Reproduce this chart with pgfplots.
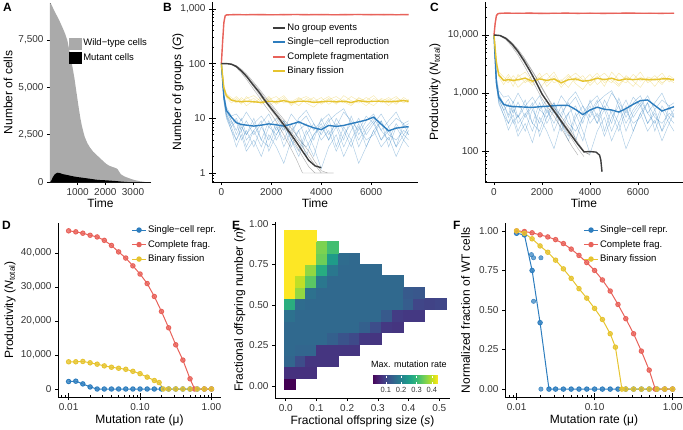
\documentclass[border=0pt]{standalone}
\usepackage{fontspec}
\setmainfont{Liberation Sans}
\setsansfont{Liberation Sans}
\usepackage{pgfplots}
\usepackage{pgfplotstable}
\pgfplotsset{compat=1.18}
\usetikzlibrary{calc}

\definecolor{cblue}{RGB}{45,125,190}
\definecolor{cred}{RGB}{232,98,90}
\definecolor{cyel}{RGB}{230,196,48}
\definecolor{cdark}{RGB}{60,60,60}
\definecolor{cgray}{RGB}{170,170,170}

\newcommand{\tfont}{\fontsize{10}{11}\selectfont}
\newcommand{\lfont}{\fontsize{12}{13}\selectfont}
\newcommand{\gfont}{\fontsize{9.5}{10}\selectfont}

\pgfplotsset{
  gg/.style={
    scale only axis,
    axis x line=bottom, axis y line=left,
    axis line style={-, line width=0.5pt, black},
    tick style={black, line width=0.5pt},
    tick align=outside,
    major tick length=3pt,
    minor tick length=2pt,
    scaled ticks=false,
    tick label style={font=\tfont, text=black!80},
    label style={font=\lfont},
    /pgf/number format/assume math mode=true,
    legend cell align=left,
    legend style={draw=none, fill=none, inner sep=0pt, font=\gfont,
      row sep=2.5pt, nodes={inner sep=1.5pt, text height=7pt, text depth=2pt}},
  },
  % label placement: baseline of the label at a fraction of the axis size
  xlab/.style={xlabel style={at={(axis description cs:0.5,#1)}, anchor=base}},
  ylab/.style={ylabel style={at={(axis description cs:#1,0.5)}, anchor=base}},
  rep/.style={line width=0.45pt, opacity=0.4, forget plot},
  mean/.style={line width=1.4pt, forget plot},
  dots/.style={mark=*, mark size=2.2pt, line width=1pt,
    mark options={draw=none, fill opacity=0.75}, forget plot},
}

% ---------- panel A ----------
\pgfplotstableread{
t v
0 9450
35 9410
120 9150
212 8880
330 8550
447 8170
540 7850
623 7500
700 6950
790 6250
882 5490
960 4700
1040 3900
1100 3350
1152 2960
1250 2400
1350 2050
1446 1820
1560 1600
1682 1430
1800 1270
1917 1110
2030 960
2152 850
2250 800
2328 760
2400 720
2446 670
2500 540
2564 406
2680 300
2800 230
2950 150
3093 88
3250 40
3446 0
3650 0
}\Atotal
\pgfplotstableread{
t v
0 0
40 50
100 250
180 420
270 490
360 470
450 420
620 370
800 310
975 265
1150 230
1330 195
1500 160
1680 120
1850 100
2030 90
2200 70
2390 50
2600 20
2800 0
3650 0
}\Amut

% ---------- panel B ----------
\pgfplotstableread{
t r1 r2 r3 r4 r5 r6 r7 r8 m
0 100 100 100 100 100 100 100 100 100
100 25 28 20 24 22 24 26 22 25
200 13 16 10 12 11 12 14 11 14
400 9 11 6 8 7 7 9 6 10.5
600 5 12 3 10 4 9 6 4 8.3
800 8 9 5 6 7 4 10 6 7.7
1000 4 13 2.5 9 5 6 5 3 7.5
1300 6 8 4 5 10 3 8 6 7.2
1600 3 11 2 8 4 7 4 9 7.5
1900 7 7 5 12 3 4 9 2.5 7.9
2200 5 10 3 6 7 8 4 5 7.6
2500 9 6 1.5 9 4 3 7 8 7.2
2800 4 12 4 5 8 6 3 4 7.8
3100 6 8 2.5 10 4 9 6 2 8.6
3400 2 11 6 14 3 4 8 5 7.5
3700 5 6 3 8 5 2 4 8 6.7
4000 8 9 1.2 5 7 6 10 4 6.2
4300 4 12 3 9 4 10 5 6 7.4
4600 7 7 5 12 10 3 8 2.5 7.1
4900 3 13 2 15 6 7 4 5 7.4
5200 6 9 4 8 3 4 11 8 8.0
5500 10 6 1.5 4 7 8 5 3 8.6
5800 5 11 3 7 4 3 9 6 9.3
6100 8 8 6 10 5 6 12 9 10.5
6400 4 12 3 6 9 9 6 4 7.8
6700 6 7 4.5 9 5 3 4 7 5.9
7000 3 10 2 13 4 7 8 3 6.6
7300 5 8 4 7 6 4 5 8 6.9
7500 4 9 3 8 5 6 7 5 7.0
}\Bblue
\pgfplotstableread{
t y1 y2 y3 y4 m
0 100 100 100 100 100
100 38 33 40 35 36
200 26 24 28 25 26
400 22 19 24 21 21.5
600 19 23 20 25 20.5
800 24 18 22 20 20
1000 20 25 17 23 20.5
1300 23 19 21 26 20
1600 18 24 19 20 19.5
1900 22 17 25 23 20.5
2200 25 21 18 19 20
2500 19 26 22 24 21
2800 21 18 20 17 19.5
3100 17 23 24 22 20.5
3400 23 20 19 25 20.5
3700 20 24 16 21 19.5
4000 24 18 21 19 20
4300 18 22 25 23 20.5
4600 22 25 19 18 20
4900 19 20 22 26 20.5
5200 25 17 18 21 19.5
5500 21 23 24 19 21
5800 17 21 20 24 20
6100 23 26 17 20 20.5
6400 20 19 23 22 20.5
6700 24 22 21 17 20
7000 19 18 25 23 20.5
7300 22 24 19 21 21
7500 20 21 22 19 20.5
}\Byel
\pgfplotstableread{
t g1 g2 g3 g4 m
0 100 100 100 100 100
200 100 100 100 100 100
400 96 98 97 99 97.5
600 85 90 87 92 88.5
800 68 76 71 79 73.5
1000 52 62 57 65 59
1250 36 45 40 48 42
1500 25 33 28 35 30.5
1750 17 23 20 25 21
2000 12 16.5 14 18 15
2250 8 12 10 13 10.8
2500 5 8.5 7 9.5 7.6
2750 3 6 5 7 5.4
3000 1.8 4.2 3.2 5 3.7
3250 1 3 2 3.5 2.5
3500 1 2 1.3 2.5 1.7
3750 1 1.4 1 1.6 1.35
4000 1 1 1 1.1 1.25
4250 1 1 nan 1 nan
4500 1 nan nan 1 nan
}\Bblack
\pgfplotstableread{
t r1 r2 m
0 100 100 100
50 230 270 250
100 520 600 560
150 720 760 740
200 770 790 775
300 795 765 780
500 800 770 785
1000 770 800 782
1500 805 770 788
2000 790 765 780
2500 770 800 785
3000 800 775 790
3500 795 770 783
4000 775 800 787
4500 795 765 781
5000 800 770 786
5500 775 805 790
6000 800 770 784
6500 770 800 788
7000 795 770 782
7500 775 800 786
}\Bred

% ---------- panel C ----------
\pgfplotstableread{
t c1 c2 c3 c4 c5 c6 c7 c8 m
0 10000 10000 10000 10000 10000 10000 10000 10000 10000
100 1600 1900 1300 1700 1500 1500 1800 1400 1500
200 900 1100 650 800 750 800 950 700 850
400 650 850 420 600 520 500 650 420 640
600 380 900 230 780 300 650 420 300 600
800 600 680 350 450 520 300 720 420 585
1000 300 1000 180 700 380 420 380 220 580
1300 450 600 300 380 760 220 600 420 572
1600 220 850 140 600 300 520 300 680 566
1900 520 520 380 900 220 300 680 180 580
2200 380 760 220 450 520 600 300 380 592
2500 680 450 110 680 300 220 520 600 605
2800 300 900 300 380 600 450 220 300 615
3100 450 600 180 760 300 680 450 150 610
3400 150 850 450 1050 220 300 600 380 520
3700 380 450 220 600 380 150 300 600 425
4000 600 680 90 380 520 450 760 300 510
4300 300 900 220 680 300 760 380 450 570
4600 520 520 380 900 760 220 600 180 525
4900 220 1000 150 1100 450 520 300 380 510
5200 450 680 300 600 220 300 820 600 470
5500 760 450 110 300 520 600 380 220 540
5800 380 850 220 520 300 220 680 450 640
6100 600 600 450 760 380 450 900 680 740
6400 300 900 220 450 680 680 450 300 760
6700 450 520 340 680 380 220 300 520 610
7000 220 760 150 1000 300 520 600 220 490
7300 380 600 300 520 450 300 380 600 545
7500 300 680 220 600 380 450 520 380 580
}\Cblue
\pgfplotstableread{
t y1 y2 y3 y4 m
0 10000 10000 10000 10000 10000
100 3500 3000 3800 3200 3300
200 2100 1900 2300 2000 2050
400 1700 1400 1900 1600 1650
600 1500 1900 1600 2100 1700
800 2000 1300 1750 1550 1650
1000 1600 2100 1250 1900 1700
1300 1900 1500 1650 2300 1800
1600 1350 2000 1500 1600 1600
1900 1800 1200 2200 1900 1750
2200 2200 1700 1300 1500 1650
2500 1500 2300 1800 2000 1750
2800 1700 1400 1600 1250 1500
3100 1250 1950 2100 1800 1700
3400 1900 1600 1450 2200 1750
3700 1600 2000 1150 1700 1600
4000 2100 1350 1700 1500 1650
4300 1400 1800 2200 1950 1800
4600 1800 2200 1500 1300 1700
4900 1500 1650 1850 2300 1800
5200 2200 1300 1400 1700 1650
5500 1700 1900 2000 1500 1750
5800 1300 1700 1600 2100 1700
6100 1900 2300 1250 1600 1750
6400 1600 1500 1900 1800 1700
6700 2000 1800 1700 1300 1700
7000 1500 1400 2200 1900 1750
7300 1800 2000 1550 1700 1750
7500 1650 1750 1800 1500 1680
}\Cyel
\pgfplotstableread{
t g1 g2 g3 g4 m
0 10000 10000 10000 10000 10000
250 9700 9900 9800 9850 9800
500 8300 9000 8600 8900 8700
750 6300 7400 6700 7200 7000
1000 4500 5700 4900 5400 5200
1250 3000 4100 3400 3900 3600
1500 1950 2800 2300 2700 2400
1750 1250 1900 1500 1850 1550
2000 800 1250 1000 1200 960
2250 560 830 680 800 680
2500 400 560 470 520 490
2750 270 420 330 370 350
3000 180 300 230 270 250
3250 120 210 160 190 180
3500 85 140 110 130 130
3750 nan 100 80 95 97
4000 nan 85 nan 88 98
4250 nan nan nan nan 96
4400 nan nan nan nan 85
4450 nan nan nan nan 70
4500 nan nan nan nan 44
}\Cblack
\pgfplotstableread{
t r1 r2 m
0 10000 10000 10000
50 15000 17000 16000
100 20500 22500 21500
150 22500 23500 23000
200 23300 23900 23500
300 24100 23300 23700
500 24200 23300 23800
1000 23200 24200 23700
1500 24300 23200 23800
2000 24000 23100 23600
2500 23200 24200 23700
3000 24200 23300 23800
3500 24000 23200 23650
4000 23300 24300 23750
4500 24100 23100 23650
5000 24200 23200 23700
5500 23300 24300 23800
6000 24200 23300 23750
6500 23200 24100 23700
7000 24000 23200 23650
7500 23400 24200 23750
}\Cred

% ---------- panel D ----------
\pgfplotstableread{
x y
0.0100 2200
0.0126 2300
0.0158 1500
0.0200 600
0.0251 0
0.0316 0
0.0398 0
0.0501 0
0.0631 0
0.0794 0
0.1000 0
0.1259 0
0.1585 0
0.1995 0
0.2512 0
0.3162 0
0.3981 0
0.5012 0
0.6310 0
0.7943 0
1.0000 0
}\Dblue
\pgfplotstableread{
x y
0.0100 46500
0.0126 46200
0.0158 45800
0.0200 45200
0.0251 44700
0.0316 43700
0.0398 42200
0.0501 40300
0.0631 38500
0.0794 36200
0.1000 33800
0.1259 31000
0.1585 27200
0.1995 22800
0.2512 18000
0.3162 13000
0.3981 8500
0.5012 3000
0.5800 0
0.7943 0
1.0000 0
}\Dred
\pgfplotstableread{
x y
0.0100 8000
0.0126 8000
0.0158 8100
0.0200 7700
0.0251 7300
0.0316 6800
0.0398 6400
0.0501 6100
0.0631 5800
0.0794 5200
0.1000 4500
0.1259 3500
0.1585 2500
0.1850 1900
0.2120 0
0.2512 0
0.3162 0
0.3981 0
0.5012 0
0.6310 0
0.7943 0
1.0000 0
}\Dyel

% ---------- panel E ----------
\pgfplotstableread{
s n v
0.012 0.016 0.01
0.012 0.086 0.07
0.047 0.086 0.07
0.082 0.086 0.07
0.012 0.156 0.15
0.047 0.156 0.11
0.082 0.156 0.075
0.118 0.156 0.075
0.153 0.156 0.075
0.012 0.226 0.155
0.047 0.226 0.15
0.082 0.226 0.15
0.118 0.226 0.075
0.153 0.226 0.075
0.188 0.226 0.075
0.223 0.226 0.075
0.012 0.296 0.155
0.047 0.296 0.155
0.082 0.296 0.155
0.118 0.296 0.155
0.153 0.296 0.14
0.188 0.296 0.12
0.223 0.296 0.105
0.258 0.296 0.08
0.294 0.296 0.075
0.012 0.367 0.155
0.047 0.367 0.155
0.082 0.367 0.155
0.118 0.367 0.155
0.153 0.367 0.155
0.188 0.367 0.155
0.223 0.367 0.155
0.258 0.367 0.14
0.294 0.367 0.11
0.329 0.367 0.08
0.364 0.367 0.075
0.012 0.437 0.17
0.047 0.437 0.155
0.082 0.437 0.155
0.118 0.437 0.155
0.153 0.437 0.155
0.188 0.437 0.155
0.223 0.437 0.155
0.258 0.437 0.155
0.294 0.437 0.155
0.329 0.437 0.13
0.364 0.437 0.085
0.399 0.437 0.08
0.434 0.437 0.08
0.012 0.507 0.28
0.047 0.507 0.16
0.082 0.507 0.155
0.118 0.507 0.155
0.153 0.507 0.155
0.188 0.507 0.155
0.223 0.507 0.155
0.258 0.507 0.155
0.294 0.507 0.155
0.329 0.507 0.155
0.364 0.507 0.155
0.399 0.507 0.135
0.434 0.507 0.10
0.470 0.507 0.095
0.505 0.507 0.10
0.012 0.577 0.44
0.047 0.577 0.37
0.082 0.577 0.17
0.118 0.577 0.155
0.153 0.577 0.155
0.188 0.577 0.155
0.223 0.577 0.155
0.258 0.577 0.155
0.294 0.577 0.155
0.329 0.577 0.155
0.364 0.577 0.155
0.399 0.577 0.13
0.434 0.577 0.125
0.012 0.647 0.44
0.047 0.647 0.40
0.082 0.647 0.33
0.118 0.647 0.18
0.153 0.647 0.155
0.188 0.647 0.155
0.223 0.647 0.155
0.258 0.647 0.155
0.294 0.647 0.155
0.329 0.647 0.155
0.364 0.647 0.155
0.012 0.717 0.44
0.047 0.717 0.44
0.082 0.717 0.37
0.118 0.717 0.275
0.153 0.717 0.18
0.188 0.717 0.155
0.223 0.717 0.155
0.258 0.717 0.155
0.294 0.717 0.155
0.012 0.787 0.44
0.047 0.787 0.44
0.082 0.787 0.44
0.118 0.787 0.345
0.153 0.787 0.245
0.188 0.787 0.16
0.223 0.787 0.155
0.012 0.857 0.44
0.047 0.857 0.44
0.082 0.857 0.44
0.118 0.857 0.355
0.153 0.857 0.31
0.012 0.927 0.44
0.047 0.927 0.44
0.082 0.927 0.44
}\Etiles

% ---------- panel F ----------
\pgfplotstableread{
x y
0.0100 0.985
0.0126 0.975
0.0158 0.750
0.0200 0.420
0.0260 0
0.0316 0
0.0398 0
0.0501 0
0.0631 0
0.0794 0
0.1000 0
0.1259 0
0.1585 0
0.1995 0
0.2512 0
0.3162 0
0.3981 0
0.5012 0
0.6310 0
0.7943 0
1.0000 0
}\Fblue
\pgfplotstableread{
x y
0.0126 0.99
0.0155 0.85
0.0165 0.83
0.0165 0.555
0.0205 0.83
0.0205 0
}\Fbluerep
\pgfplotstableread{
x y
0.0100 1.000
0.0126 0.996
0.0158 0.988
0.0200 0.975
0.0251 0.962
0.0316 0.945
0.0398 0.920
0.0501 0.885
0.0631 0.845
0.0794 0.800
0.1000 0.750
0.1259 0.690
0.1585 0.620
0.1995 0.535
0.2512 0.445
0.3162 0.350
0.3981 0.240
0.5012 0.120
0.6000 0
0.7943 0
1.0000 0
}\Fred
\pgfplotstableread{
x y
0.0100 1.000
0.0126 0.985
0.0158 0.950
0.0200 0.905
0.0251 0.865
0.0316 0.815
0.0398 0.760
0.0501 0.700
0.0631 0.635
0.0794 0.575
0.1000 0.510
0.1259 0.440
0.1585 0.350
0.1850 0.265
0.2240 0
0.2512 0
0.3162 0
0.3981 0
0.5012 0
0.6310 0
0.7943 0
1.0000 0
}\Fyel

\begin{document}
\begin{tikzpicture}
\useasboundingbox (0,0) rectangle (683pt,429pt);

% A
\begin{axis}[gg, at={(50pt,247pt)}, anchor=south west, width=101pt, height=179pt,
  xlab=-0.145, ylab=-0.373,
  xmin=0, xmax=3650, ymin=0, ymax=9450,
  xtick={1000,2000,3000}, xticklabels={1000,2000,3000},
  ytick={0,2500,5000,7500}, yticklabels={0,{2,500},{5,000},{7,500}},
  xlabel={Time}, ylabel={Number of cells},
  legend image code/.code={\fill[#1] (0pt,-5.5pt) rectangle (12pt,5.5pt);},
  legend style={at={(0.19,0.81)}, anchor=north west}]
\addlegendimage{cgray}\addlegendentry{Wild−type cells}
\addlegendimage{black}\addlegendentry{Mutant cells}
\addplot[fill=cgray, draw=none, forget plot] table[x=t, y=v] {\Atotal} \closedcycle;
\addplot[fill=black, draw=none, forget plot] table[x=t, y=v] {\Amut} \closedcycle;
\end{axis}

% B
\begin{axis}[gg, at={(212pt,247pt)}, anchor=south west, width=206pt, height=180pt,
  xlab=-0.1444, ylab=-0.150,
  ymode=log, xmin=-375, xmax=7875, ymin=0.684, ymax=1337,
  unbounded coords=jump,
  xtick={0,2000,4000,6000}, xticklabels={0,2000,4000,6000},
  ytick={1,10,100,1000}, yticklabels={1,10,100,{1,000}},
  minor ytick={0.7,0.8,0.9,2,3,4,5,6,7,8,9,20,30,40,50,60,70,80,90,200,300,400,500,600,700,800,900},
  minor tick style={xshift=2pt},
  extra y ticks={1,10,100,1000}, extra y tick labels={},
  extra y tick style={major tick length=4pt, tick style={xshift=4pt}},
  xlabel={Time}, ylabel={Number of groups (\textit{G})},
  legend image code/.code={\draw[#1] (0pt,0pt) -- (12pt,0pt);},
  legend style={at={(0.29,0.89)}, anchor=north west}]
\addlegendimage{cdark, line width=2pt}\addlegendentry{No group events}
\addlegendimage{cblue, line width=2pt}\addlegendentry{Single−cell reproduction}
\addlegendimage{cred, line width=2pt}\addlegendentry{Complete fragmentation}
\addlegendimage{cyel, line width=2pt}\addlegendentry{Binary fission}
\foreach \c in {r1,r2,r3,r4,r5,r6,r7,r8}{\addplot[rep, cblue] table[x=t, y=\c] {\Bblue};}
\foreach \c in {y1,y2,y3,y4}{\addplot[rep, cyel] table[x=t, y=\c] {\Byel};}
\foreach \c in {g1,g2,g3,g4}{\addplot[rep, cdark] table[x=t, y=\c] {\Bblack};}
\foreach \c in {r1,r2}{\addplot[rep, cred] table[x=t, y=\c] {\Bred};}
\addplot[mean, cblue] table[x=t, y=m] {\Bblue};
\addplot[mean, cyel] table[x=t, y=m] {\Byel};
\addplot[mean, cred] table[x=t, y=m] {\Bred};
\addplot[mean, cdark] table[x=t, y=m] {\Bblack};
\end{axis}

% C
\begin{axis}[gg, at={(485pt,247pt)}, anchor=south west, width=198pt, height=180pt,
  xlab=-0.1444, ylab=-0.237,
  ymode=log, xmin=-375, xmax=7875, ymin=29.3, ymax=37070,
  unbounded coords=jump,
  xtick={0,2000,4000,6000}, xticklabels={0,2000,4000,6000},
  ytick={100,1000,10000}, yticklabels={100,{1,000},{10,000}},
  minor ytick={30,40,50,60,70,80,90,200,300,400,500,600,700,800,900,2000,3000,4000,5000,6000,7000,8000,9000,20000,30000},
  minor tick style={xshift=2pt},
  extra y ticks={100,1000,10000}, extra y tick labels={},
  extra y tick style={major tick length=4pt, tick style={xshift=4pt}},
  xlabel={Time}, ylabel={Productivity (\textit{N}\textsubscript{total})}]
\foreach \c in {c1,c2,c3,c4,c5,c6,c7,c8}{\addplot[rep, cblue] table[x=t, y=\c] {\Cblue};}
\foreach \c in {y1,y2,y3,y4}{\addplot[rep, cyel] table[x=t, y=\c] {\Cyel};}
\foreach \c in {g1,g2,g3,g4}{\addplot[rep, cdark] table[x=t, y=\c] {\Cblack};}
\foreach \c in {r1,r2}{\addplot[rep, cred] table[x=t, y=\c] {\Cred};}
\addplot[mean, cblue] table[x=t, y=m] {\Cblue};
\addplot[mean, cyel] table[x=t, y=m] {\Cyel};
\addplot[mean, cred] table[x=t, y=m] {\Cred};
\addplot[mean, cdark] table[x=t, y=m] {\Cblack};
\end{axis}

% D
\begin{axis}[gg, at={(58pt,32pt)}, anchor=south west, width=163pt, height=174pt,
  xlab=-0.152, ylab=-0.276,
  xmode=log, xmin=0.0071, xmax=1.36, ymin=-2350, ymax=48800,
  xtick={0.01,0.1,1}, xticklabels={0.01,0.10,1.00},
  minor xtick={0.008,0.009,0.02,0.03,0.04,0.05,0.06,0.07,0.08,0.09,0.2,0.3,0.4,0.5,0.6,0.7,0.8,0.9},
  minor tick style={yshift=2pt},
  extra x ticks={0.01,0.1,1}, extra x tick labels={},
  extra x tick style={major tick length=4pt, tick style={yshift=4pt}},
  ytick={0,10000,20000,30000,40000}, yticklabels={0,{10,000},{20,000},{30,000},{40,000}},
  xlabel={Mutation rate (μ)}, ylabel={Productivity (\textit{N}\textsubscript{total})},
  legend image code/.code={\draw[#1] (0pt,0pt) -- (14pt,0pt); \fill[#1] (7pt,0pt) circle (2.2pt);},
  legend style={at={(0.45,0.995)}, anchor=north west}]
\addlegendimage{cblue, line width=1pt}\addlegendentry{Single−cell repr.}
\addlegendimage{cred, line width=1pt}\addlegendentry{Complete frag.}
\addlegendimage{cyel, line width=1pt}\addlegendentry{Binary fission}
\addplot[dots, cblue] table[x=x, y=y] {\Dblue};
\addplot[dots, cred] table[x=x, y=y] {\Dred};
\addplot[dots, cyel] table[x=x, y=y] {\Dyel};
\end{axis}

% E
\begin{axis}[gg, name=E, at={(275pt,31pt)}, anchor=south west, width=175pt, height=176pt,
  xlab=-0.148, ylab=-0.183,
  xmin=-0.035, xmax=0.535, ymin=-0.074, ymax=1.012,
  xtick={0,0.1,0.2,0.3,0.4,0.5}, xticklabels={0.0,0.1,0.2,0.3,0.4,0.5},
  ytick={0,0.25,0.5,0.75,1}, yticklabels={0.00,0.25,0.50,0.75,1.00},
  xlabel={Fractional offspring size (\textit{s})},
  ylabel={Fractional offspring number (\textit{n})},
  colormap name=viridis, point meta min=0.01, point meta max=0.44,
  colorbar horizontal,
  colorbar style={
    at={($(parent axis.south west)+(97pt,23pt)$)}, anchor=south west,
    width=66pt, height=8pt, scale only axis,
    xtick={0.1,0.2,0.3,0.4}, xticklabels={0.1,0.2,0.3,0.4},
    xticklabel style={font=\fontsize{7.5}{8}\selectfont, text=black!80},
    tick style={draw=white, line width=0.6pt}, major tick length=2pt, tick align=inside,
    axis line style={draw=none},
    title={Max. mutation rate},
    title style={font=\fontsize{9}{10}\selectfont, at={(0,1)}, anchor=south west, inner sep=1pt, xshift=-2pt, yshift=1pt}}]
\addplot[scatter, only marks, mark=square*, mark size=5.45pt,
  scatter src=explicit,
  scatter/use mapped color={draw=mapped color, fill=mapped color},
  mark options={yscale=1.045}] table[x=s, y=n, meta=v] {\Etiles};
\end{axis}

% F
\begin{axis}[gg, at={(505pt,32pt)}, anchor=south west, width=178pt, height=174pt,
  xlab=-0.152, ylab=-0.197,
  xmode=log, xmin=0.0071, xmax=1.36, ymin=-0.05, ymax=1.05,
  xtick={0.01,0.1,1}, xticklabels={0.01,0.10,1.00},
  minor xtick={0.008,0.009,0.02,0.03,0.04,0.05,0.06,0.07,0.08,0.09,0.2,0.3,0.4,0.5,0.6,0.7,0.8,0.9},
  minor tick style={yshift=2pt},
  extra x ticks={0.01,0.1,1}, extra x tick labels={},
  extra x tick style={major tick length=4pt, tick style={yshift=4pt}},
  ytick={0,0.25,0.5,0.75,1}, yticklabels={0.00,0.25,0.50,0.75,1.00},
  xlabel={Mutation rate (μ)}, ylabel={Normalized fraction of WT cells},
  legend image code/.code={\draw[#1] (0pt,0pt) -- (14pt,0pt); \fill[#1] (7pt,0pt) circle (2.2pt);},
  legend style={at={(0.44,0.995)}, anchor=north west}]
\addlegendimage{cblue, line width=1pt}\addlegendentry{Single−cell repr.}
\addlegendimage{cred, line width=1pt}\addlegendentry{Complete frag.}
\addlegendimage{cyel, line width=1pt}\addlegendentry{Binary fission}
\addplot[dots, cblue] table[x=x, y=y] {\Fblue};
\addplot[only marks, mark=*, mark size=2.2pt, cblue, mark options={draw=none, fill opacity=0.7}, forget plot] table[x=x, y=y] {\Fbluerep};
\addplot[dots, cred] table[x=x, y=y] {\Fred};
\addplot[dots, cyel] table[x=x, y=y] {\Fyel};
\end{axis}

% panel letters
\begin{scope}[every node/.style={anchor=base west, font=\bfseries\fontsize{12}{12}\selectfont, inner sep=0pt}]
\node at (3pt,417pt) {A};
\node at (163pt,417pt) {B};
\node at (430pt,417pt) {C};
\node at (2pt,199pt) {D};
\node at (232pt,199pt) {E};
\node at (453pt,199pt) {F};
\end{scope}
\end{tikzpicture}
\end{document}
